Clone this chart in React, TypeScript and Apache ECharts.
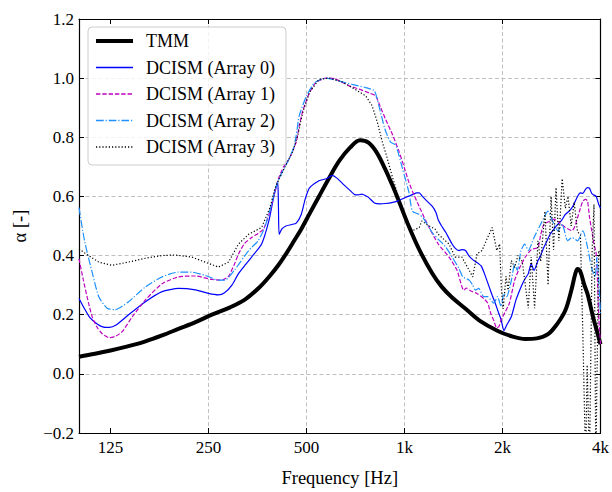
import React, { useEffect, useRef } from "react";
import * as echarts from "echarts";

// ---- axis ticks ----
const tickFreqs = [125, 250, 500, 1000, 2000, 4000];
const tickLabels = ["125", "250", "500", "1k", "2k", "4k"];
const freqMin = 100;
const freqMax = 4000;
const alphaMin = -0.2;
const alphaMax = 1.2;
const alphaStep = 0.2;

const seriesNames = ["TMM", "DCISM (Array 0)", "DCISM (Array 1)", "DCISM (Array 2)", "DCISM (Array 3)"];

// ---- data: [frequency Hz, alpha] ----
const tmm: number[][] = [
  [100, 0.058], [112, 0.068], [125, 0.079], [140, 0.092], [160, 0.11], [180, 0.13], [202, 0.152],
  [228, 0.175], [256, 0.2], [290, 0.224], [324, 0.252], [358, 0.292], [385, 0.33], [410, 0.368],
  [435, 0.41], [458, 0.45], [482, 0.49], [510, 0.54], [546, 0.6], [585, 0.66], [630, 0.72],
  [680, 0.765], [730, 0.79], [775, 0.782], [820, 0.75], [870, 0.695], [920, 0.635], [960, 0.585],
  [1030, 0.5], [1110, 0.42], [1216, 0.34], [1300, 0.295], [1400, 0.258], [1540, 0.22], [1700, 0.18],
  [1935, 0.145], [2150, 0.126], [2350, 0.118], [2550, 0.12], [2760, 0.134], [2950, 0.17],
  [3120, 0.215], [3250, 0.28], [3350, 0.34], [3400, 0.355], [3470, 0.345], [3570, 0.3],
  [3650, 0.27], [3800, 0.19], [3900, 0.145], [4000, 0.1],
];

const array0: number[][] = [
  [100, 0.255], [104, 0.22], [108, 0.19], [114, 0.168], [119, 0.158], [124, 0.157], [130, 0.165],
  [142, 0.2], [160, 0.244], [180, 0.278], [202, 0.289], [228, 0.284], [250, 0.272], [268, 0.267],
  [280, 0.274], [295, 0.3], [309, 0.339], [325, 0.37], [339, 0.395], [364, 0.439], [383, 0.517],
  [395, 0.59], [404, 0.635], [408, 0.65], [410, 0.56], [412, 0.472], [420, 0.49], [432, 0.5],
  [450, 0.505], [465, 0.51], [482, 0.54], [495, 0.59], [510, 0.628], [546, 0.653], [575, 0.66],
  [600, 0.671], [620, 0.662], [650, 0.64], [676, 0.623], [703, 0.606], [720, 0.605], [740, 0.608],
  [760, 0.602], [778, 0.595], [808, 0.578], [840, 0.575], [874, 0.576], [920, 0.58], [960, 0.586],
  [1010, 0.597], [1058, 0.606], [1090, 0.612], [1110, 0.612], [1135, 0.6], [1160, 0.589],
  [1216, 0.567], [1250, 0.545], [1270, 0.52], [1300, 0.5], [1340, 0.478], [1370, 0.458],
  [1400, 0.439], [1430, 0.425], [1470, 0.417], [1500, 0.42], [1540, 0.417], [1575, 0.4],
  [1610, 0.389], [1650, 0.38], [1690, 0.372], [1720, 0.365], [1760, 0.339], [1820, 0.294],
  [1860, 0.265], [1900, 0.239], [1940, 0.21], [1980, 0.183], [2020, 0.146], [2060, 0.165],
  [2130, 0.194], [2200, 0.25], [2280, 0.294], [2340, 0.32], [2400, 0.339], [2450, 0.372],
  [2500, 0.35], [2570, 0.383], [2620, 0.4], [2680, 0.428], [2740, 0.45], [2800, 0.472],
  [2880, 0.49], [2960, 0.506], [3040, 0.52], [3120, 0.539], [3200, 0.55], [3270, 0.562],
  [3350, 0.585], [3420, 0.605], [3470, 0.612], [3530, 0.61], [3600, 0.625], [3650, 0.63],
  [3700, 0.628], [3760, 0.61], [3800, 0.606], [3880, 0.6], [3950, 0.573], [4000, 0.56],
];

const array1: number[][] = [
  [100, 0.389], [103, 0.32], [107, 0.239], [110, 0.19], [114, 0.155], [118, 0.135], [124, 0.122],
  [130, 0.128], [136, 0.144], [146, 0.194], [160, 0.25], [180, 0.305], [202, 0.328], [228, 0.331],
  [256, 0.319], [275, 0.317], [288, 0.33], [300, 0.37], [309, 0.405], [322, 0.44], [339, 0.461],
  [355, 0.475], [369, 0.49], [386, 0.55], [400, 0.617], [410, 0.66], [425, 0.7], [443, 0.729],
  [465, 0.784], [475, 0.84], [487, 0.89], [500, 0.925], [510, 0.95], [534, 0.985], [573, 1.0],
  [610, 0.998], [676, 0.974], [725, 0.963], [778, 0.95], [815, 0.94], [845, 0.9], [874, 0.862],
  [920, 0.807], [960, 0.755], [1000, 0.695], [1030, 0.65], [1058, 0.617], [1110, 0.565],
  [1190, 0.495], [1270, 0.439], [1370, 0.395], [1450, 0.35], [1520, 0.283], [1550, 0.29],
  [1600, 0.28], [1670, 0.272], [1750, 0.255], [1800, 0.24], [1840, 0.205], [1880, 0.18],
  [1920, 0.155], [1950, 0.16], [1980, 0.183], [2040, 0.21], [2100, 0.239], [2180, 0.317],
  [2260, 0.36], [2350, 0.395], [2450, 0.42], [2570, 0.428], [2620, 0.47], [2680, 0.506],
  [2780, 0.515], [2890, 0.523], [3000, 0.51], [3120, 0.495], [3270, 0.484], [3340, 0.5],
  [3400, 0.528], [3470, 0.56], [3530, 0.584], [3600, 0.59], [3650, 0.584], [3700, 0.53],
  [3760, 0.484], [3820, 0.44], [3880, 0.406], [3920, 0.3], [3950, 0.194], [4000, 0.1],
];

const array2: number[][] = [
  [100, 0.562], [104, 0.45], [110, 0.339], [115, 0.261], [122, 0.222], [129, 0.217], [142, 0.244],
  [160, 0.294], [180, 0.328], [202, 0.344], [222, 0.344], [244, 0.333], [268, 0.317], [281, 0.317],
  [300, 0.35], [332, 0.417], [355, 0.45], [372, 0.495], [390, 0.573], [405, 0.64], [420, 0.68],
  [443, 0.729], [458, 0.77], [465, 0.807], [475, 0.873], [500, 0.94], [530, 0.985], [573, 1.0],
  [630, 0.99], [690, 0.979], [760, 0.968], [808, 0.957], [834, 0.907], [870, 0.829], [905, 0.784],
  [940, 0.773], [985, 0.695], [1030, 0.617], [1058, 0.55], [1110, 0.539], [1140, 0.528],
  [1216, 0.478], [1270, 0.455], [1340, 0.428], [1400, 0.395], [1470, 0.356], [1510, 0.328],
  [1580, 0.317], [1620, 0.3], [1650, 0.283], [1690, 0.289], [1750, 0.261], [1800, 0.261],
  [1880, 0.239], [1930, 0.261], [1980, 0.228], [2020, 0.272], [2060, 0.261], [2130, 0.317],
  [2180, 0.372], [2220, 0.35], [2280, 0.417], [2340, 0.439], [2400, 0.417], [2500, 0.461],
  [2620, 0.506], [2760, 0.55], [2850, 0.517], [2960, 0.484], [3050, 0.506], [3170, 0.45],
  [3270, 0.461], [3400, 0.45], [3530, 0.484], [3650, 0.428], [3750, 0.361], [3850, 0.328],
  [3900, 0.395], [3950, 0.317], [4000, 0.2],
];

const array3: number[][] = [
  [100, 0.422], [107, 0.4], [115, 0.378], [126, 0.367], [142, 0.378], [160, 0.391], [180, 0.4],
  [197, 0.402], [222, 0.395], [244, 0.378], [268, 0.361], [288, 0.378], [309, 0.439], [332, 0.472],
  [364, 0.495], [386, 0.562], [400, 0.628], [413, 0.662], [432, 0.706], [453, 0.751], [470, 0.807],
  [487, 0.885], [510, 0.951], [546, 0.996], [587, 1.0], [645, 0.987], [703, 0.963], [760, 0.94],
  [795, 0.907], [825, 0.851], [855, 0.784], [885, 0.729], [920, 0.662], [960, 0.595], [1000, 0.528],
  [1058, 0.484], [1110, 0.495], [1130, 0.517], [1190, 0.5], [1240, 0.49], [1270, 0.472],
  [1370, 0.439], [1430, 0.395], [1500, 0.395], [1580, 0.35], [1620, 0.328], [1670, 0.406],
  [1730, 0.417], [1800, 0.461], [1860, 0.495], [1920, 0.417], [1960, 0.439], [1985, 0.283],
  [2010, 0.22], [2050, 0.33], [2080, 0.283], [2130, 0.383], [2180, 0.36], [2230, 0.4],
  [2300, 0.38], [2400, 0.222], [2450, 0.395], [2510, 0.222], [2570, 0.45], [2620, 0.38],
  [2700, 0.55], [2760, 0.3], [2820, 0.6], [2870, 0.42], [2920, 0.63], [2980, 0.45], [3050, 0.66],
  [3120, 0.56], [3180, 0.6], [3250, 0.5], [3320, 0.58], [3400, 0.48], [3470, 0.47], [3530, 0.138],
  [3600, -0.3], [3640, 0.03], [3700, -0.3], [3770, 0.417], [3820, 0.573], [3870, -0.3],
  [3950, 0.417], [4000, 0.4],
];

const FONT = "'Liberation Serif', 'Times New Roman', serif";

export default function App() {
  const ref = useRef<HTMLDivElement>(null);

  useEffect(() => {
    const chart = echarts.init(ref.current as HTMLDivElement, null, { renderer: "svg" });
    const lx = (f: number) => Math.log2(f);
    const toData = (arr: number[][]) => arr.map(([f, a]) => [lx(f), a]);
    const tickPos = tickFreqs.map(lx);
    const fmtX = (v: number) => {
      const i = tickPos.findIndex((p) => Math.abs(p - v) < 1e-6);
      return i >= 0 ? tickLabels[i] : "";
    };
    const fmtY = (v: number) => {
      const r = Math.round(v * 10) / 10;
      return (r < 0 ? "\u2212" : "") + Math.abs(r).toFixed(1);
    };
    const frame = { show: true, onZero: false, lineStyle: { color: "#000", width: 1.2 } };
    const tick = { show: true, inside: true, length: 5, lineStyle: { color: "#000", width: 1 } };
    const grid = {
      show: true,
      showMinLine: false,
      showMaxLine: false,
      lineStyle: { color: "#b0b0b0", width: 0.8, type: [4, 2.5] },
    };

    const styles = [
      { color: "#000000", width: 4, type: "solid" as any, smooth: 0.35 },
      { color: "#0000ff", width: 1.2, type: "solid" as any, smooth: 0.2 },
      { color: "#bf00bf", width: 1.2, type: [4.4, 1.9] as any, smooth: 0.2 },
      { color: "#1e90ff", width: 1.2, type: [7.7, 1.9, 1.2, 1.9] as any, smooth: 0.2 },
      { color: "#000000", width: 1.2, type: [1.2, 2] as any, smooth: 0 },
    ];
    const datasets = [tmm, array0, array1, array2, array3];

    const option: any = {
      animation: false,
      textStyle: { fontFamily: FONT },
      grid: { left: 79, top: 19, width: 524, height: 419, containLabel: false },
      legend: {
        orient: "vertical",
        left: 88,
        top: 27,
        itemWidth: 37,
        itemHeight: 18,
        itemGap: 8.5,
        padding: [5, 11, 9, 6],
        backgroundColor: "rgba(255,255,255,0.8)",
        borderColor: "#cccccc",
        borderWidth: 1,
        borderRadius: 4,
        itemStyle: { opacity: 0 },
        textStyle: { fontSize: 18, color: "#000", fontFamily: FONT, padding: [0, 0, 0, 8] },
        data: seriesNames.map((n, i) => ({
          name: n,
          lineStyle: { width: i === 0 ? 4 : 1.4 },
        })),
      },
      xAxis: [
        {
          type: "value",
          min: lx(freqMin),
          max: lx(freqMax),
          position: "bottom",
          axisLine: frame,
          axisTick: { ...tick, customValues: tickPos },
          axisLabel: { customValues: tickPos, formatter: fmtX, fontSize: 17, color: "#000", margin: 6, fontFamily: FONT },
          splitLine: grid,
          name: "Frequency [Hz]",
          nameLocation: "middle",
          nameGap: 35,
          nameTextStyle: { fontSize: 18.5, color: "#000", fontFamily: FONT },
        },
        {
          type: "value",
          min: lx(freqMin),
          max: lx(freqMax),
          position: "top",
          axisLine: frame,
          axisTick: { ...tick, customValues: tickPos },
          axisLabel: { show: false, customValues: tickPos },
          splitLine: { show: false },
        },
      ],
      yAxis: [
        {
          type: "value",
          min: alphaMin,
          max: alphaMax,
          interval: alphaStep,
          position: "left",
          axisLine: frame,
          axisTick: tick,
          axisLabel: { formatter: fmtY, fontSize: 17, color: "#000", margin: 5, fontFamily: FONT },
          splitLine: grid,
          name: "\u03b1 [-]",
          nameLocation: "middle",
          nameRotate: 90,
          nameGap: 50,
          nameTextStyle: { fontSize: 18.5, color: "#000", fontFamily: FONT },
        },
        {
          type: "value",
          min: alphaMin,
          max: alphaMax,
          interval: alphaStep,
          position: "right",
          axisLine: frame,
          axisTick: tick,
          axisLabel: { show: false },
          splitLine: { show: false },
        },
      ],
      series: datasets.map((d, i) => ({
        name: seriesNames[i],
        type: "line",
        xAxisIndex: 0,
        yAxisIndex: 0,
        data: toData(d),
        symbol: "none",
        showSymbol: false,
        smooth: styles[i].smooth,
        clip: true,
        lineStyle: { color: styles[i].color, width: styles[i].width, type: styles[i].type },
        itemStyle: { color: styles[i].color },
        emphasis: { disabled: true },
      })),
    };

    chart.setOption(option);
    return () => chart.dispose();
  }, []);

  return (
    <div
      ref={ref}
      style={{ position: "fixed", left: 0, top: 0, width: 612, height: 492, background: "#fff" }}
    />
  );
}
